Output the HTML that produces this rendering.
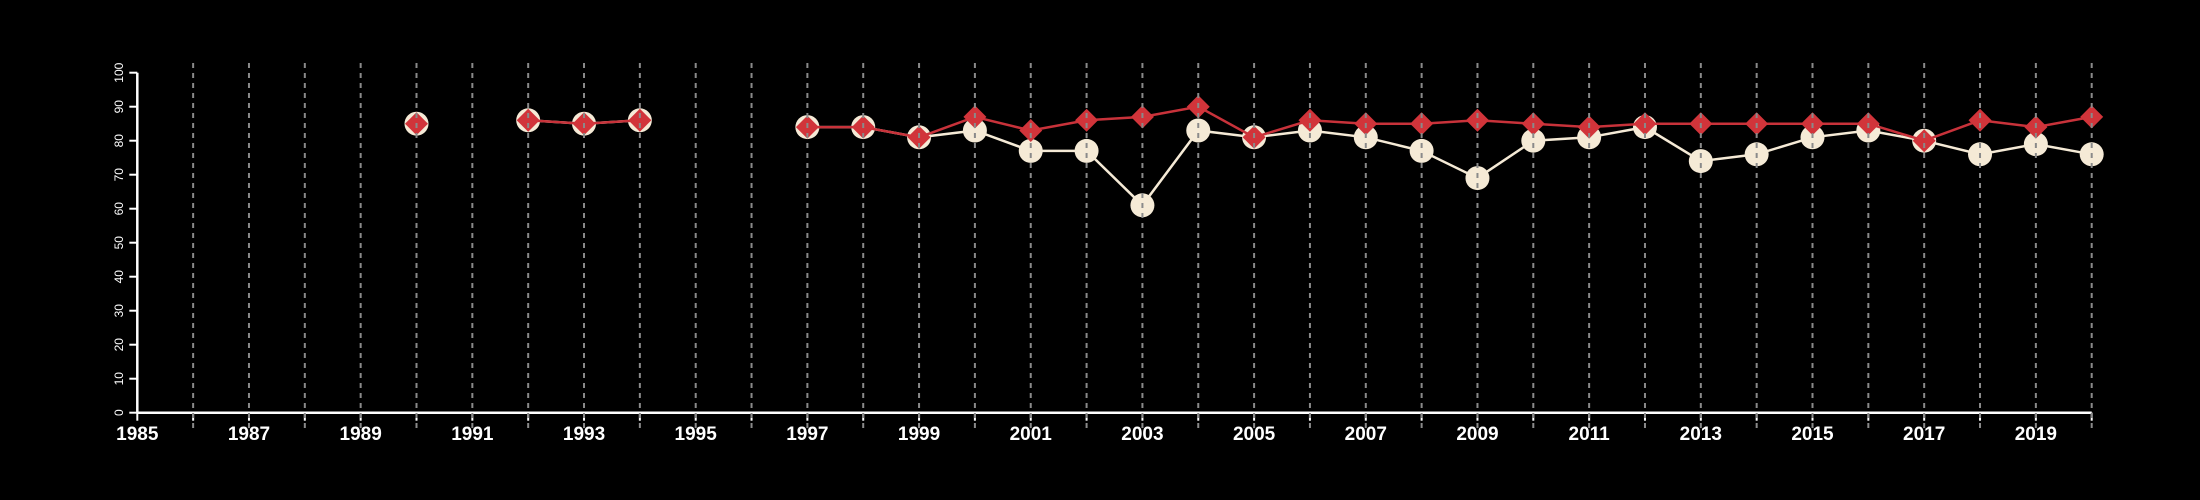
<!DOCTYPE html>
<html><head><meta charset="utf-8"><style>
html,body{margin:0;padding:0;background:#000;width:2200px;height:500px;overflow:hidden}
svg{display:block}
text{font-family:"Liberation Sans",Arial,sans-serif;fill:#fff}
</style></head><body>
<svg id="chart" width="2200" height="500" xmlns="http://www.w3.org/2000/svg"></svg>
<script>
const years = [1990,1992,1993,1994,1997,1998,1999,2000,2001,2002,2003,2004,2005,2006,2007,2008,2009,2010,2011,2012,2013,2014,2015,2016,2017,2018,2019,2020];
const redSeries = [85,86,85,86,84,84,81,87,83,86,87,90,81,86,85,85,86,85,84,85,85,85,85,85,80,86,84,87];
const whiteSeries = [85,86,85,86,84,84,81,83,77,77,61,83,81,83,81,77,69,80,81,84,74,76,81,83,80,76,79,76];
const yTicks = [0,10,20,30,40,50,60,70,80,90,100];
const xLabels = [1985,1987,1989,1991,1993,1995,1997,1999,2001,2003,2005,2007,2009,2011,2013,2015,2017,2019];

const svg = document.getElementById('chart');
const NS = 'http://www.w3.org/2000/svg';
const X0 = 137.3, XS = 55.84, Y0 = 412.7, YS = 3.4;
const xs = y => X0 + (y - 1985) * XS;
const ys = v => Y0 - v * YS;
function mk(tag, attrs, parent){const e=document.createElementNS(NS,tag);for(const k in attrs)e.setAttribute(k,attrs[k]);(parent||svg).appendChild(e);return e;}

// x axis
const xa = mk('line',{x1:xs(1985),x2:xs(2020),y1:Y0,y2:Y0,stroke:'#fff','stroke-width':2.5});


for (let yr = 1985; yr <= 2020; yr++) {
  const t = mk('line',{x1:xs(yr),x2:xs(yr),y1:Y0,y2:Y0+8,stroke:'#fff','stroke-width':2});
  
  
}
xLabels.forEach(l => {
  const t = mk('text',{x:xs(l),y:440,'text-anchor':'middle','font-size':19,'font-weight':'bold'});
  t.textContent = l;
  
  
});
// y axis
const ya = mk('line',{x1:X0,x2:X0,y1:ys(0),y2:ys(100),stroke:'#fff','stroke-width':2.5});


yTicks.forEach(v => {
  const t = mk('line',{x1:X0-8,x2:X0,y1:ys(v),y2:ys(v),stroke:'#fff','stroke-width':2});
  
  
  const l = mk('text',{x:0,y:0,'text-anchor':'middle','font-size':12,transform:`translate(123,${ys(v)}) rotate(-90)`});
  l.textContent = v;
  
  
});
function segments(){
  const segs=[];let cur=[];
  years.forEach((y,i)=>{if(i>0&&y-years[i-1]>1){segs.push(cur);cur=[];}cur.push(i);});
  segs.push(cur);return segs;
}
function drawLine(vals,color,name){
  segments().forEach(seg=>{
    if(seg.length<2)return;
    const p = mk('polyline',{points:seg.map(i=>xs(years[i])+','+ys(vals[i])).join(' '),fill:'none',stroke:color,'stroke-width':2.5});
    
    
  });
}
drawLine(whiteSeries,'#f5ead6','white-series-line');
whiteSeries.forEach((v,i)=>{
  const c = mk('circle',{cx:xs(years[i]),cy:ys(v),r:12,fill:'#f5ead6'});
  
  
});
drawLine(redSeries,'#c8323a','red-series-line');
redSeries.forEach((v,i)=>{
  const x=xs(years[i]),y=ys(v),d=11.5;
  const p = mk('polygon',{points:`${x},${y-d} ${x+d},${y} ${x},${y+d} ${x-d},${y}`,fill:'#d1343a'});
  
  
});
// grid lines drawn on top (as in reference)
for (let yr = 1986; yr <= 2020; yr++) {
  const g = mk('line',{x1:xs(yr),x2:xs(yr),y1:63,y2:428,stroke:'#8a8a8a','stroke-width':2,'stroke-dasharray':'5,5'});
  
  
}
</script>
</body></html>
